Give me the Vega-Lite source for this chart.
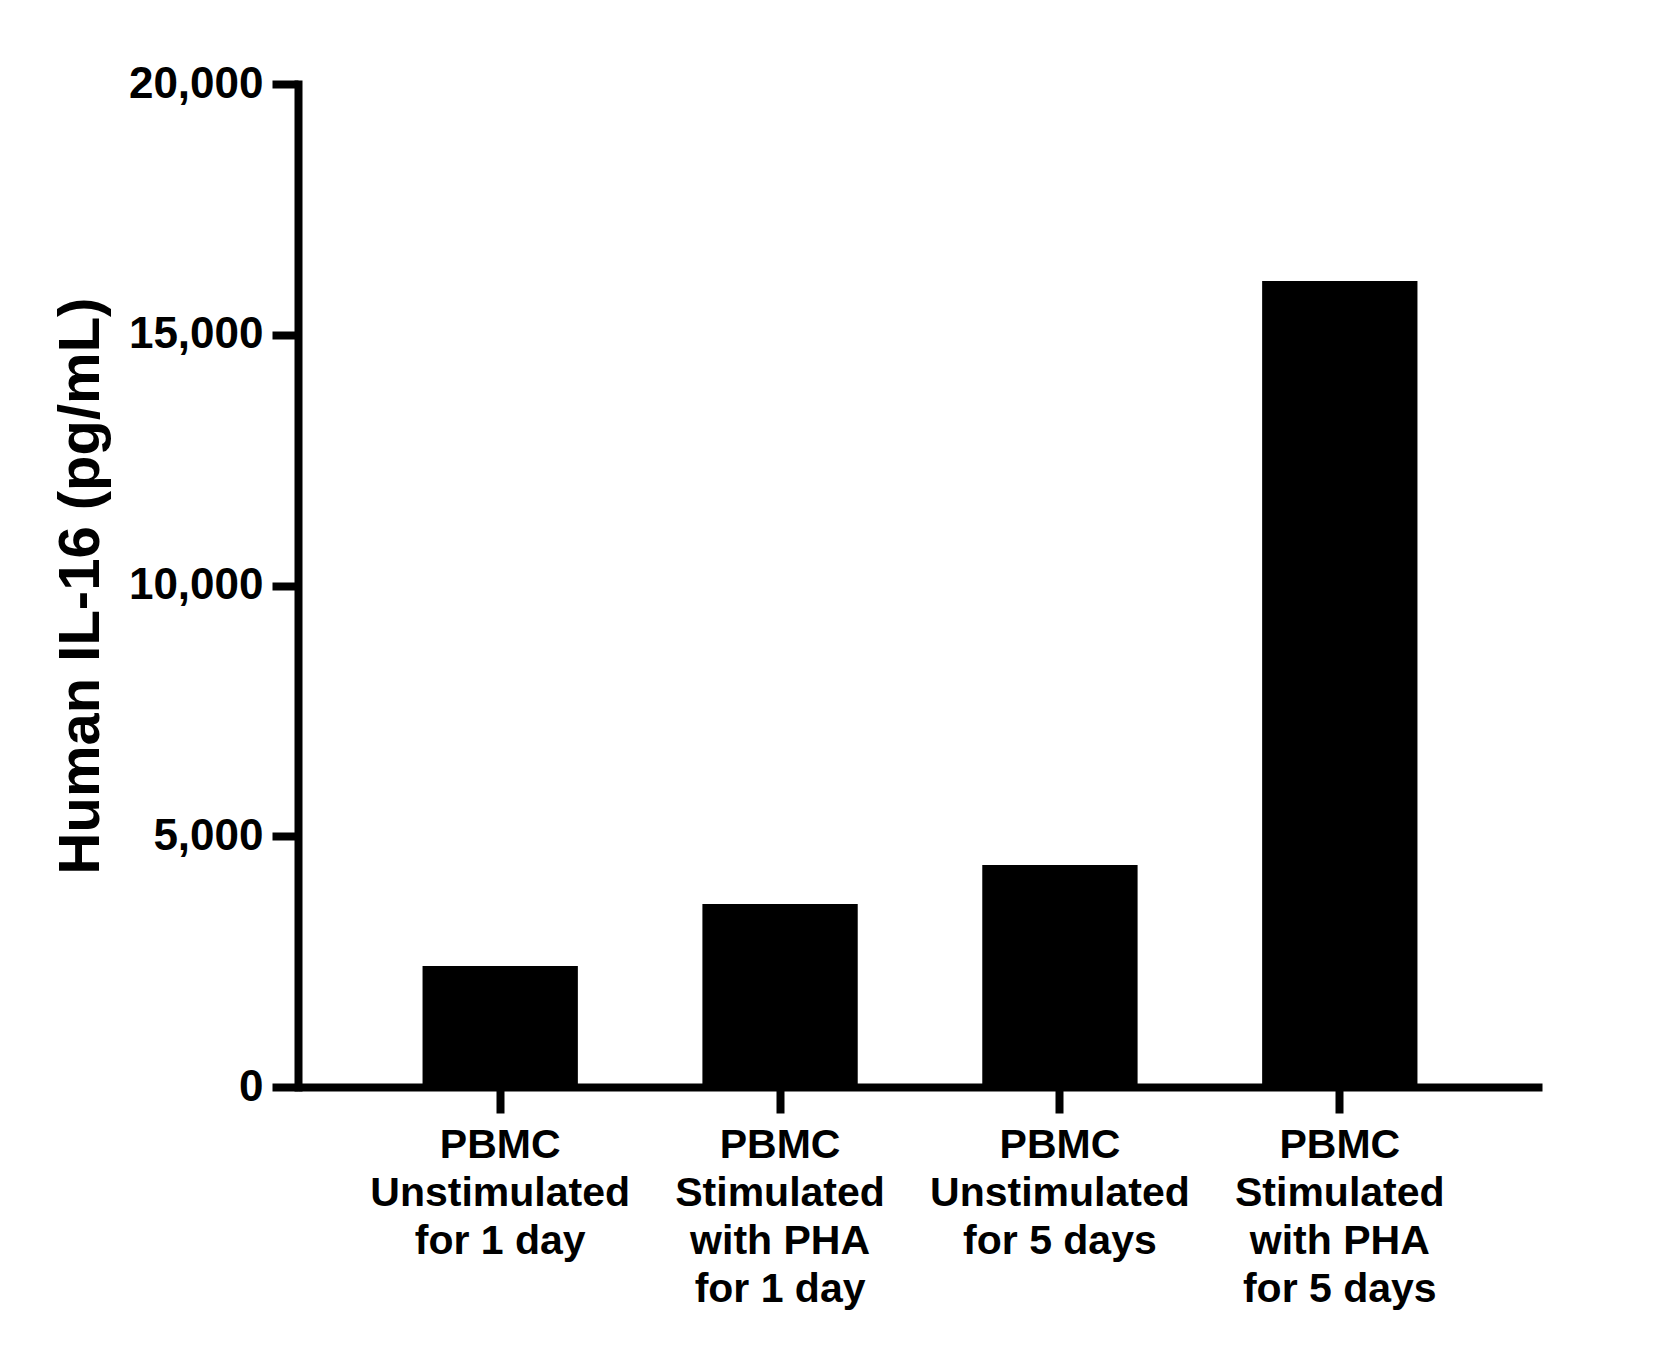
{
  "$schema": "https://vega.github.io/schema/vega-lite/v6.json",
  "autosize": {"type": "none"},
  "padding": {"left": 298, "top": 84, "right": 130, "bottom": 263},
  "width": 1244,
  "height": 1003,
  "background": "white",
  "data": {
    "values": [
      {"group": "PBMC\nUnstimulated\nfor 1 day", "il16": 2413},
      {"group": "PBMC\nStimulated\nwith PHA\nfor 1 day", "il16": 3649},
      {"group": "PBMC\nUnstimulated\nfor 5 days", "il16": 4427},
      {"group": "PBMC\nStimulated\nwith PHA\nfor 5 days", "il16": 16072}
    ]
  },
  "mark": {"type": "bar", "color": "black"},
  "encoding": {
    "x": {
      "field": "group",
      "type": "nominal",
      "sort": null,
      "title": null,
      "scale": {"paddingInner": 0.445, "paddingOuter": 0.445},
      "axis": {
        "labelAngle": 0,
        "labelExpr": "split(datum.label, '\\n')",
        "labelFontSize": 41,
        "labelLineHeight": 48,
        "labelPadding": 12,
        "labelBaseline": "top",
        "labelLimit": 0,
        "tickSize": 26,
        "domainCap": "butt"
      }
    },
    "y": {
      "field": "il16",
      "type": "quantitative",
      "title": "Human IL-16 (pg/mL)",
      "scale": {"domain": [0, 20000], "nice": false},
      "axis": {
        "values": [0, 5000, 10000, 15000, 20000],
        "format": ",d",
        "labelFontSize": 44,
        "labelPadding": 9,
        "labelLimit": 0,
        "tickSize": 26,
        "titleFontSize": 58,
        "titlePadding": 18,
        "domainCap": "square"
      }
    }
  },
  "config": {
    "view": {"stroke": null},
    "font": "Liberation Sans",
    "axis": {
      "grid": false,
      "domainColor": "black",
      "domainWidth": 8,
      "tickColor": "black",
      "tickWidth": 8,
      "labelColor": "black",
      "labelFont": "Liberation Sans",
      "labelFontWeight": "bold",
      "titleColor": "black",
      "titleFont": "Liberation Sans",
      "titleFontWeight": "bold",
      "labelOverlap": false,
      "labelFlush": false
    }
  }
}
